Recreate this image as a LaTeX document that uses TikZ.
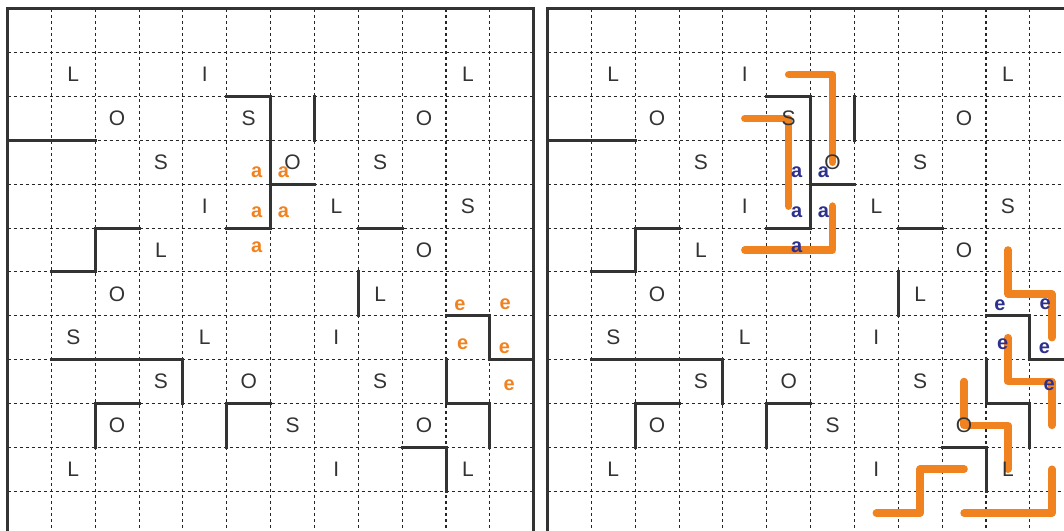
\documentclass[tikz,border=0pt]{standalone}
\usepackage{fontspec}
\setmainfont{Liberation Sans}
\definecolor{wallc}{HTML}{333333}
\definecolor{orangec}{RGB}{240,130,32}
\definecolor{bluec}{RGB}{45,48,140}
\tikzset{
  gridline/.style={line width=1.1pt, dash pattern=on 3pt off 3pt, black!85},
  wall/.style={line width=3pt, wallc, line cap=rect, line join=miter},
  route/.style={orangec, line width=7.5pt, line cap=round, line join=round},
  letter/.style={inner sep=0pt, text=wallc, font=\fontsize{21}{21}\selectfont},
  tag/.style={inner sep=0pt, font=\fontsize{20}{20}\selectfont\bfseries}
}
\newcommand\mazebase{%
  \foreach \i in {1,...,11} {
    \draw[gridline] (\i,0) -- (\i,12);
    \draw[gridline] (0,\i) -- (12,\i);
  }
  \draw[wall] (0,0) rectangle (12,12);
  \draw[wall] (0,3) -- (2,3);
  \draw[wall] (5,2) -- (6,2) -- (6,5) -- (5,5);
  \draw[wall] (6,4) -- (7,4);
  \draw[wall] (7,2) -- (7,3);
  \draw[wall] (8,5) -- (9,5);
  \draw[wall] (1,6) -- (2,6) -- (2,5) -- (3,5);
  \draw[wall] (1,8) -- (4,8) -- (4,9);
  \draw[wall] (2,10) -- (2,9) -- (3,9);
  \draw[wall] (5,10) -- (5,9) -- (6,9);
  \draw[wall] (8,6) -- (8,7);
  \draw[wall] (10,7) -- (11,7) -- (11,8) -- (12,8);
  \draw[wall] (10,8) -- (10,9) -- (11,9) -- (11,10);
  \draw[wall] (9,10) -- (10,10) -- (10,11);
}
\newcommand\mazetext[2]{%
  \foreach \c/\r/\t in {1/1/L,4/1/I,10/1/L,
      2/2/O,5/2/S,9/2/O,
      3/3/S,6/3/O,8/3/S,
      4/4/I,7/4/L,10/4/S,
      3/5/L,9/5/O,
      2/6/O,8/6/L,
      1/7/S,4/7/L,7/7/I,
      3/8/S,5/8/O,8/8/S,
      2/9/O,6/9/S,9/9/O,
      1/10/L,7/10/I,10/10/L}
    \node[letter] (#2-\c-\r) at (\c+0.5,\r+0.5) {\t};
  \foreach \xx/\yy/\t [count=\k] in {5.68/3.73/a,6.29/3.73/a,5.68/4.65/a,6.29/4.65/a,5.68/5.44/a,
      10.32/6.75/e,11.35/6.73/e,10.38/7.64/e,11.33/7.73/e,11.44/8.59/e}
    \node[tag, text=#1] (#2-t\k) at (\xx,\yy) {\t};
}
\begin{document}
\begin{tikzpicture}[x=1pt,y=-1pt]
\useasboundingbox (0,0) rectangle (1064,530);
\clip (0,0) rectangle (1064,530);
\begin{scope}[shift={(7.5,8.8)},x=43.85pt,y=-43.85pt]
  \mazebase
  \mazetext{orangec}{A}
\end{scope}
\begin{scope}[shift={(547.5,8.8)},x=43.85pt,y=-43.85pt]
  \mazebase
  \draw[route] (5.5,1.5) -- (6.5,1.5) -- (6.5,3.5);
  \draw[route] (4.5,2.5) -- (5.5,2.5) -- (5.5,4.5);
  \draw[route] (4.5,5.5) -- (6.5,5.5) -- (6.5,4.5);
  \draw[route] (10.5,5.5) -- (10.5,6.5) -- (11.5,6.5) -- (11.5,7.5);
  \draw[route] (10.5,7.5) -- (10.5,8.5) -- (11.5,8.5) -- (11.5,9.5);
  \draw[route] (9.5,8.5) -- (9.5,9.5) -- (10.5,9.5) -- (10.5,10.5);
  \draw[route] (7.5,11.5) -- (8.5,11.5) -- (8.5,10.5) -- (9.5,10.5);
  \draw[route] (9.5,11.5) -- (11.5,11.5) -- (11.5,10.5);
  \mazetext{bluec}{B}
\end{scope}
\end{tikzpicture}
\end{document}
